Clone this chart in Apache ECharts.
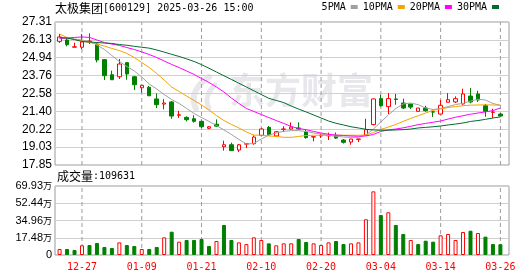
<!DOCTYPE html>
<html><head><meta charset="utf-8">
<script src="https://cdn.jsdelivr.net/npm/echarts@6/dist/echarts.min.js"></script>
<style>html,body{margin:0;padding:0;background:#fff}#c{width:530px;height:276px}</style>
</head><body><div id="c"></div>
<script>
const stockName = '太极集团', stockCode = '600129', stamp = '2025-03-26 15:00';
const volTitle = '成交量';
const lastVolume = 109631;

const dates = ['12-24','12-25','12-26','12-27','12-30','12-31','01-02','01-03','01-06','01-07','01-08','01-09','01-10','01-13','01-14','01-15','01-16','01-17','01-20','01-21','01-22','01-23','01-24','01-27','02-05','02-06','02-07','02-10','02-11','02-12','02-13','02-14','02-17','02-18','02-19','02-20','02-21','02-24','02-25','02-26','02-27','02-28','03-03','03-04','03-05','03-06','03-07','03-10','03-11','03-12','03-13','03-14','03-17','03-18','03-19','03-20','03-21','03-24','03-25','03-26'];

const opens  = [26.03,26.12,25.64,25.64,26.02,25.85,24.82,23.82,23.69,24.62,23.69,22.96,22.99,22.22,21.88,22.02,21.14,21.00,20.91,20.74,20.28,20.55,19.06,19.19,18.84,19.23,19.26,19.81,20.34,19.77,20.21,20.23,20.30,20.03,19.70,19.78,19.78,19.81,19.50,19.37,19.55,19.81,20.52,22.24,21.71,22.22,21.95,21.88,21.40,21.62,21.37,21.22,22.00,22.02,21.89,22.41,22.55,21.77,21.33,21.22];
const closes = [26.32,25.81,25.67,25.99,26.05,24.80,23.76,23.49,24.53,23.87,23.16,23.12,22.43,21.84,21.95,21.09,21.17,20.85,20.74,20.38,20.38,20.42,19.19,18.80,19.19,19.26,19.70,20.23,19.85,20.05,20.23,20.36,20.23,19.66,19.72,19.80,19.81,19.63,19.35,19.57,19.57,20.19,22.22,21.77,22.24,22.19,21.62,21.68,21.62,21.44,21.35,21.80,22.17,22.24,22.55,22.02,22.15,21.40,21.35,21.09];
const lows   = [25.92,25.70,25.64,25.50,25.85,24.64,23.47,23.49,23.54,23.49,22.81,22.63,22.43,21.62,21.53,20.91,20.96,20.74,20.65,20.30,20.21,20.38,18.80,18.78,18.71,18.97,19.19,19.77,19.79,19.70,20.03,20.19,20.20,19.59,19.42,19.64,19.50,19.57,19.27,19.19,19.37,19.79,20.47,21.71,21.22,21.84,21.55,21.55,21.40,21.38,21.03,21.22,22.00,21.95,21.84,21.93,22.02,21.04,20.96,21.04];
const highs  = [26.52,26.19,25.94,26.52,26.56,25.92,24.86,24.09,24.86,24.66,23.74,23.14,23.08,22.59,22.22,22.08,21.44,21.07,21.14,20.78,20.43,20.87,19.46,19.33,19.24,19.26,19.81,20.30,20.43,20.10,20.41,20.67,20.67,20.19,19.72,19.90,19.99,20.00,19.57,19.57,19.57,20.91,22.24,22.50,22.61,22.55,22.24,21.90,21.62,21.77,21.51,22.15,22.61,22.39,22.90,22.94,22.76,21.89,21.57,21.29];

const ma5  = [26.25,26.22,26.19,26.12,26.02,25.79,25.49,25.09,24.70,24.37,24.07,23.67,23.21,22.88,22.51,22.18,21.92,21.59,21.26,20.99,20.73,20.46,20.17,19.87,19.54,19.24,19.27,19.57,19.83,19.97,20.08,20.12,20.12,20.07,19.97,19.90,19.80,19.75,19.70,19.68,19.68,19.83,20.23,20.69,21.16,21.59,21.89,21.95,21.84,21.62,21.52,21.59,21.72,21.85,21.93,22.08,22.20,22.15,21.92,21.80];
const ma10 = [26.52,26.28,26.15,26.05,25.95,25.85,25.72,25.56,25.42,25.23,24.96,24.63,24.30,23.90,23.47,23.01,22.71,22.41,22.12,21.82,21.49,21.12,20.79,20.53,20.30,20.03,19.83,19.82,19.77,19.74,19.68,19.68,19.74,19.80,19.82,19.82,19.82,19.82,19.82,19.82,19.82,19.83,20.00,20.20,20.36,20.53,20.74,20.93,21.11,21.29,21.47,21.55,21.65,21.72,21.77,21.81,21.82,21.83,21.82,21.80];
const ma20 = [26.23,26.25,26.29,26.32,26.29,26.12,25.95,25.85,25.76,25.62,25.49,25.33,25.16,24.96,24.73,24.50,24.30,24.07,23.84,23.57,23.31,23.01,22.68,22.28,21.92,21.59,21.39,21.19,20.99,20.79,20.60,20.40,20.26,20.19,20.07,19.97,19.88,19.83,19.80,19.77,19.75,19.77,19.87,20.07,20.17,20.23,20.31,20.41,20.52,20.60,20.68,20.76,20.89,21.01,21.11,21.21,21.29,21.36,21.45,21.62];
const ma30 = [26.28,26.25,26.15,26.02,25.99,25.95,25.92,25.89,25.82,25.77,25.70,25.64,25.58,25.46,25.32,25.17,25.03,24.87,24.70,24.49,24.25,24.00,23.75,23.51,23.26,23.01,22.76,22.51,22.26,22.12,21.98,21.75,21.55,21.36,21.16,20.96,20.76,20.61,20.50,20.38,20.30,20.21,20.17,20.15,20.15,20.17,20.19,20.23,20.30,20.34,20.38,20.43,20.50,20.56,20.63,20.73,20.79,20.87,20.96,21.03];

// volume in 万 (10k) units; 1 = red (up), 0 = green (down)
const volumes = [6.1,6.1,5.1,9.8,10.1,12.2,8.1,7.1,12.8,10.1,9.1,6.1,6.1,8.1,17.9,23.6,13.5,15.2,15.2,16.2,9.1,14.2,30.4,15.2,12.8,11.1,17.9,15.2,11.8,9.8,11.8,11.8,16.2,13.2,11.8,10.1,12.8,14.2,11.1,11.8,12.8,36.2,64.5,40.5,43.3,30.4,21.3,15.2,11.1,14.5,13.5,20.0,21.3,15.2,23.3,24.6,22.3,18.6,11.1,10.9631];
const volUp   = [1,0,0,1,0,0,0,0,1,0,0,1,0,0,1,0,1,0,0,0,0,1,0,0,1,1,1,1,0,1,1,1,0,0,1,1,1,0,0,1,1,1,1,0,1,0,0,1,0,0,0,1,1,1,1,0,1,0,0,0];

const priceTicks = ['17.85','19.03','20.22','21.40','22.58','23.76','24.94','26.13','27.31'];
const volTicks   = ['0','17.48','34.96','52.44','69.93'];
const dateTicks  = ['12-27','01-09','01-21','02-10','02-20','03-04','03-14','03-26'];

const RED = '#ff0000', GREEN = '#008000';
const maColors = ['#a0a0a0', '#f4a300', '#ff00ff', '#006b30'];
const maNames = ['5PMA', '10PMA', '20PMA', '30PMA'];
const maData = [ma5, ma10, ma20, ma30];

const pMin = parseFloat(priceTicks[0]), pMax = parseFloat(priceTicks[priceTicks.length - 1]);
const pInt = (pMax - pMin) / (priceTicks.length - 1);
const vMax = parseFloat(volTicks[volTicks.length - 1]);
const vInt = vMax / (volTicks.length - 1);

const FL = 55, FW = 454;           // frame
const SLOT = 7.4714;               // one category band
const DL = 55.85, DW = SLOT * dates.length;            // band area
const MT = 22, MH = 143, VT = 186, VH = 69;

const chart = echarts.init(document.getElementById('c'), null, {renderer: 'canvas'});

const plain = {fontWeight: 'normal', color: '#000', lineHeight: 15};
const noBounds = {outerBoundsMode: 'none', containLabel: false};

// vertical dashed guides at the labelled dates, drawn through the axes
const guideSeries = (xi, yi, lo, hi) => ({
  type: 'line', xAxisIndex: xi, yAxisIndex: yi, z: 1, silent: true,
  symbol: 'none', showSymbol: false, connectNulls: false, clip: false,
  lineStyle: {type: [4, 3], color: '#9c9c9c', width: 1},
  itemStyle: {color: '#9c9c9c'},
  data: dateTicks.flatMap(d => [[d, lo], [d, hi], [d, null]])
});

const option = {
  animation: false,
  title: [
    {left: 55, top: 1, padding: 0,
     text: '{c|' + stockName + '}{a|[' + stockCode + '] ' + stamp + '}',
     textStyle: {fontWeight: 'normal', rich: {
       c: Object.assign({fontFamily: 'Noto Sans CJK SC', fontSize: 12}, plain),
       a: Object.assign({fontFamily: 'DejaVu Sans Mono', fontSize: 10}, plain)}}},
    {left: 57, top: 169, padding: 0,
     text: '{c|' + volTitle + '}{a|:' + lastVolume + '}',
     textStyle: {fontWeight: 'normal', rich: {
       c: Object.assign({fontFamily: 'Noto Sans CJK SC', fontSize: 12}, plain),
       a: Object.assign({fontFamily: 'DejaVu Sans Mono', fontSize: 10}, plain)}}}
  ],
  legend: {
    data: maNames, right: 31, top: 2, padding: 0, itemGap: 5,
    icon: 'rect', itemWidth: 7, itemHeight: 4, align: 'right',
    selectedMode: false,
    textStyle: {fontFamily: 'DejaVu Sans Mono', fontSize: 10, color: '#000'}
  },
  graphic: [
    {type: 'bezierCurve', z: -1, silent: true,
     shape: {x1: 209, y1: 77, cpx1: 196, cpy1: 85, cpx2: 190, cpy2: 97, x2: 196, y2: 109},
     style: {stroke: '#e8e8ec', lineWidth: 6, fill: null, lineCap: 'round'}},
    {type: 'bezierCurve', z: -1, silent: true,
     shape: {x1: 215, y1: 85, cpx1: 207, cpy1: 92, cpx2: 205, cpy2: 101, x2: 209, y2: 108},
     style: {stroke: '#e8e8ec', lineWidth: 5, fill: null, lineCap: 'round'}},
    {type: 'text', left: 229, top: 72, z: -1, silent: true,
     style: {text: '东方财富', fill: '#e8e8ec', font: 'bold 36px "Noto Sans CJK SC"'}}
  ],
  grid: [
    Object.assign({left: FL, top: MT, width: FW, height: MH, show: true, borderColor: '#9a9a9a', borderWidth: 1, backgroundColor: 'transparent'}, noBounds),
    Object.assign({left: DL, top: MT, width: DW, height: MH}, noBounds),
    Object.assign({left: FL, top: VT, width: FW, height: VH, show: true, borderColor: '#9a9a9a', borderWidth: 1, backgroundColor: 'transparent'}, noBounds),
    Object.assign({left: DL, top: VT, width: DW, height: VH}, noBounds)
  ],
  xAxis: [
    {gridIndex: 0, type: 'value', show: false, min: 0, max: 1},
    {gridIndex: 1, type: 'category', data: dates, boundaryGap: true, show: false},
    {gridIndex: 2, type: 'value', show: false, min: 0, max: 1},
    {gridIndex: 3, type: 'category', data: dates, boundaryGap: true,
     axisLine: {show: false}, axisTick: {show: false}, splitLine: {show: false},
     axisLabel: {interval: (i, v) => dateTicks.indexOf(v) >= 0, color: RED,
       fontFamily: 'DejaVu Sans Mono', fontSize: 10, margin: 7, hideOverlap: false}}
  ],
  yAxis: [
    {gridIndex: 0, type: 'value', min: pMin, max: pMax, interval: pInt,
     axisLine: {show: false}, axisTick: {show: false},
     splitLine: {lineStyle: {color: '#d0d0d0', width: 1}},
     axisLabel: {margin: 3, color: '#000', fontFamily: 'Liberation Sans', fontSize: 12,
       formatter: v => priceTicks[Math.round((v - pMin) / pInt)]}},
    {gridIndex: 1, type: 'value', min: pMin, max: pMax, show: false},
    {gridIndex: 2, type: 'value', min: 0, max: vMax, interval: vInt,
     axisLine: {show: false}, axisTick: {show: false},
     splitLine: {lineStyle: {color: '#d0d0d0', width: 1}},
     axisLabel: {margin: 3, color: '#000',
       formatter: v => { const t = volTicks[Math.round(v / vInt)]; return t === '0' ? '{n|0}' : '{n|' + t + '}{w|万}'; },
       rich: {n: {fontFamily: 'Liberation Sans', fontSize: 11, color: '#000'},
              w: {fontFamily: 'Noto Sans CJK SC', fontSize: 9, color: '#000'}}}},
    {gridIndex: 3, type: 'value', min: 0, max: vMax, show: false}
  ],
  series: [
    guideSeries(1, 1, pMin, pMax),
    guideSeries(3, 3, 0, vMax),
    {type: 'candlestick', xAxisIndex: 1, yAxisIndex: 1, barWidth: 4, z: 2,
     data: dates.map((d, i) => [opens[i], closes[i], lows[i], highs[i]]),
     itemStyle: {color: '#ffffff', color0: GREEN, borderColor: RED, borderColor0: GREEN, borderWidth: 1}},
    ...maNames.map((n, k) => ({
      type: 'line', name: n, xAxisIndex: 1, yAxisIndex: 1, data: maData[k],
      symbol: 'none', showSymbol: false, z: 3, silent: true,
      lineStyle: {width: 1, color: maColors[k]}, itemStyle: {color: maColors[k]}
    })),
    {type: 'bar', xAxisIndex: 3, yAxisIndex: 3, barWidth: 4, z: 2,
     data: volumes.map((v, i) => ({value: v, itemStyle: volUp[i]
       ? {color: '#ffffff', borderColor: RED, borderWidth: 1}
       : {color: GREEN, borderColor: GREEN, borderWidth: 1}}))}
  ]
};
chart.setOption(option);
</script></body></html>
